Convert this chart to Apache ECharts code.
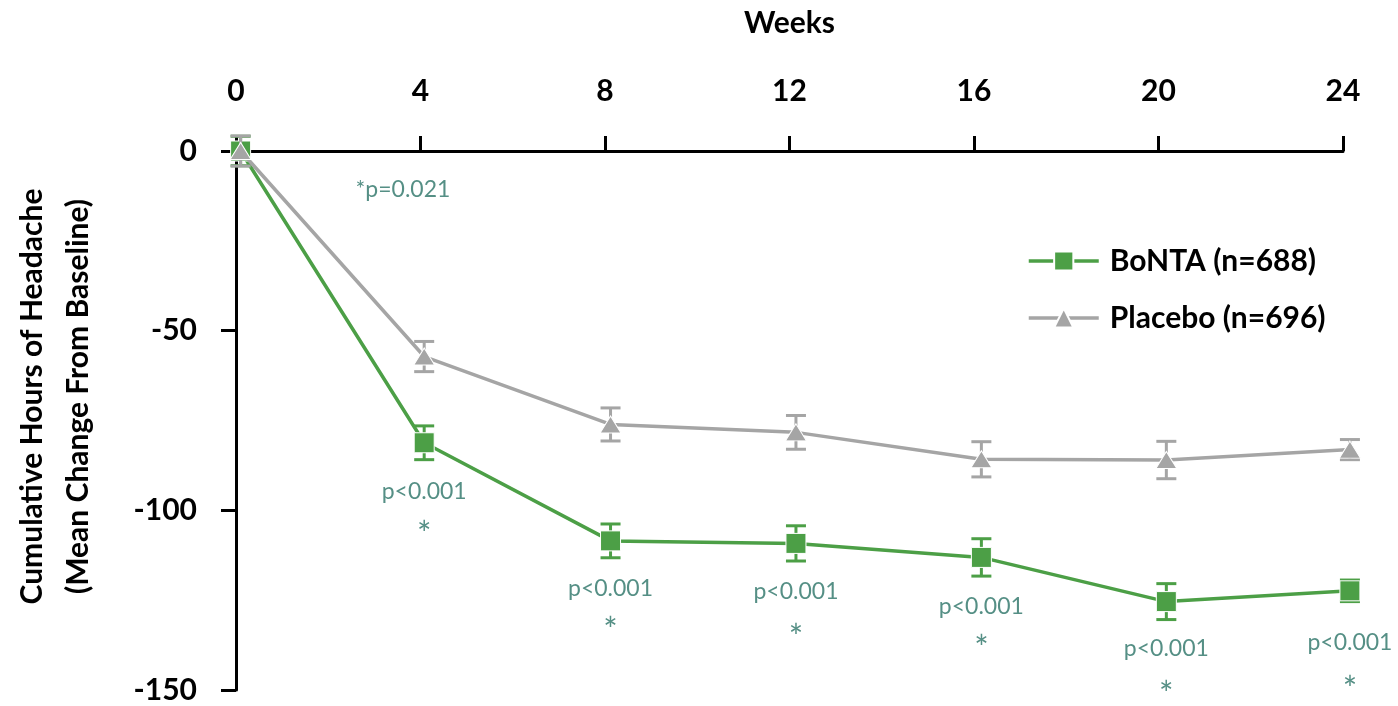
<!DOCTYPE html>
<html>
<head>
<meta charset="utf-8">
<script src="https://cdn.jsdelivr.net/npm/echarts@6/dist/echarts.min.js"></script>
<style>
  html, body { margin: 0; padding: 0; background: #fff; }
  #chart { width: 1398px; height: 706px; }
</style>
</head>
<body>
<div id="chart"></div>
<script>
// x positions (weeks) of each visit, as plotted
const weeks = [0.1, 4.08, 8.12, 12.14, 16.16, 20.17, 24.15];
const bontaMean = [0, -81.2, -108.5, -109.2, -113.1, -125.4, -122.4];
const bontaErr = [4.1, 4.7, 4.7, 4.9, 5.2, 5.0, 3.0];
const placeboMean = [0, -57.2, -76.1, -78.3, -85.8, -86.0, -83.1];
const placeboErr = [4.2, 4.2, 4.6, 4.7, 4.9, 5.2, 2.8];
const xTicks = [0, 4, 8, 12, 16, 20, 24];
const yTicks = [0, -50, -100, -150];

// p-value notes, placed in data space [week, value, text]
const notes = [
  [3.62, -10.8, "*p=0.021"],
  [4.08, -94.7, "p<0.001"],
  [8.12, -121.7, "p<0.001"],
  [12.14, -122.5, "p<0.001"],
  [16.16, -126.7, "p<0.001"],
  [20.17, -138.6, "p<0.001"],
  [24.15, -136.7, "p<0.001"]
];
const stars = [
  [4.08, -106.9], [8.12, -133.6], [12.14, -135.6],
  [16.16, -138.6], [20.17, -151.4], [24.15, -150.0]
];

const green = "#4c9f46";
const grey = "#a5a5a5";
const teal = "#2b7367";
const font = "Lato";

const chart = echarts.init(document.getElementById("chart"), null, { renderer: "canvas" });

const pairs = (ys) => weeks.map((w, i) => [w, ys[i]]);
const errData = (ys, es) => weeks.map((w, i) => [w, ys[i] - es[i], ys[i] + es[i]]);

// vertical error bar with caps
const errorBar = (color) => (params, api) => {
  const lo = api.coord([api.value(0), api.value(1)]);
  const hi = api.coord([api.value(0), api.value(2)]);
  const half = 10;
  const style = { stroke: color, lineWidth: 3 };
  return {
    type: "group",
    children: [
      { type: "line", shape: { x1: lo[0], y1: lo[1], x2: hi[0], y2: hi[1] }, style },
      { type: "line", shape: { x1: lo[0] - half, y1: lo[1], x2: lo[0] + half, y2: lo[1] }, style },
      { type: "line", shape: { x1: hi[0] - half, y1: hi[1], x2: hi[0] + half, y2: hi[1] }, style },
    ],
  };
};

const boldText = { fontFamily: font, fontSize: 30, fontWeight: "bold", color: "#000" };

chart.setOption({
  animation: false,
  backgroundColor: "#fff",
  textStyle: { fontFamily: font },
  grid: { left: 236, right: 55, top: 151, bottom: 16, outerBoundsMode: "none", containLabel: false },
  legend: {
    left: 1022,
    top: 238,
    orient: "vertical",
    itemWidth: 70,
    itemHeight: 24,
    itemGap: 21,
    data: [
      { name: "BoNTA (n=688)", lineStyle: { width: 3.5 } },
      { name: "Placebo (n=696)", lineStyle: { width: 3.5 } },
    ],
    textStyle: { ...boldText, lineHeight: 36, padding: [0, 0, 0, 6] },
  },
  xAxis: {
    type: "value",
    position: "top",
    min: 0,
    max: 24,
    interval: 4,
    name: "Weeks",
    nameLocation: "middle",
    nameGap: 113,
    nameTextStyle: boldText,
    axisLine: { onZero: false, lineStyle: { color: "#000", width: 3 } },
    axisTick: { length: 15, lineStyle: { color: "#000", width: 3 } },
    axisLabel: { ...boldText, margin: 45, customValues: xTicks },
    splitLine: { show: false },
  },
  yAxis: {
    type: "value",
    min: -150,
    max: 0,
    interval: 50,
    name: "Cumulative Hours of Headache\n(Mean Change From Baseline)",
    nameLocation: "middle",
    nameRotate: 90,
    nameGap: 135,
    nameTextStyle: { ...boldText, lineHeight: 46, align: "center", padding: [0, 0, 0, 48] },
    axisLine: { onZero: false, lineStyle: { color: "#000", width: 3 } },
    axisTick: { length: 15, lineStyle: { color: "#000", width: 3 } },
    axisLabel: { ...boldText, margin: 39, customValues: yTicks },
    splitLine: { show: false },
  },
  series: [
    {
      type: "custom",
      name: "bontaErr",
      renderItem: errorBar(green),
      data: errData(bontaMean, bontaErr),
      encode: { x: 0, y: [1, 2] },
      z: 2,
      silent: true,
    },
    {
      name: "BoNTA (n=688)",
      type: "line",
      data: pairs(bontaMean),
      symbol: "rect",
      symbolSize: 20,
      clip: false,
      lineStyle: { color: green, width: 3.5 },
      itemStyle: { color: green, borderColor: "#fff", borderWidth: 1 },
      z: 3,
    },
    {
      type: "custom",
      name: "placeboErr",
      renderItem: errorBar(grey),
      data: errData(placeboMean, placeboErr),
      encode: { x: 0, y: [1, 2] },
      z: 4,
      silent: true,
    },
    {
      name: "Placebo (n=696)",
      type: "line",
      data: pairs(placeboMean),
      symbol: "triangle",
      symbolSize: [21, 17],
      clip: false,
      lineStyle: { color: grey, width: 3.5 },
      itemStyle: { color: grey, borderColor: "#fff", borderWidth: 1 },
      z: 5,
    },
    {
      type: "scatter",
      name: "notes",
      data: notes.map((n) => ({ value: [n[0], n[1]], text: n[2] })),
      symbolSize: 1,
      itemStyle: { color: "rgba(0,0,0,0)" },
      clip: false,
      silent: true,
      label: {
        show: true,
        position: "inside",
        fontFamily: font,
        fontSize: 23,
        color: teal,
        formatter: (p) => p.data.text,
      },
      z: 6,
    },
    {
      type: "scatter",
      name: "stars",
      data: stars,
      symbolSize: 1,
      itemStyle: { color: "rgba(0,0,0,0)" },
      clip: false,
      silent: true,
      label: {
        show: true,
        position: "inside",
        fontFamily: font,
        fontSize: 34,
        color: teal,
        formatter: "*",
      },
      z: 6,
    },
  ],
});
</script>
</body>
</html>
